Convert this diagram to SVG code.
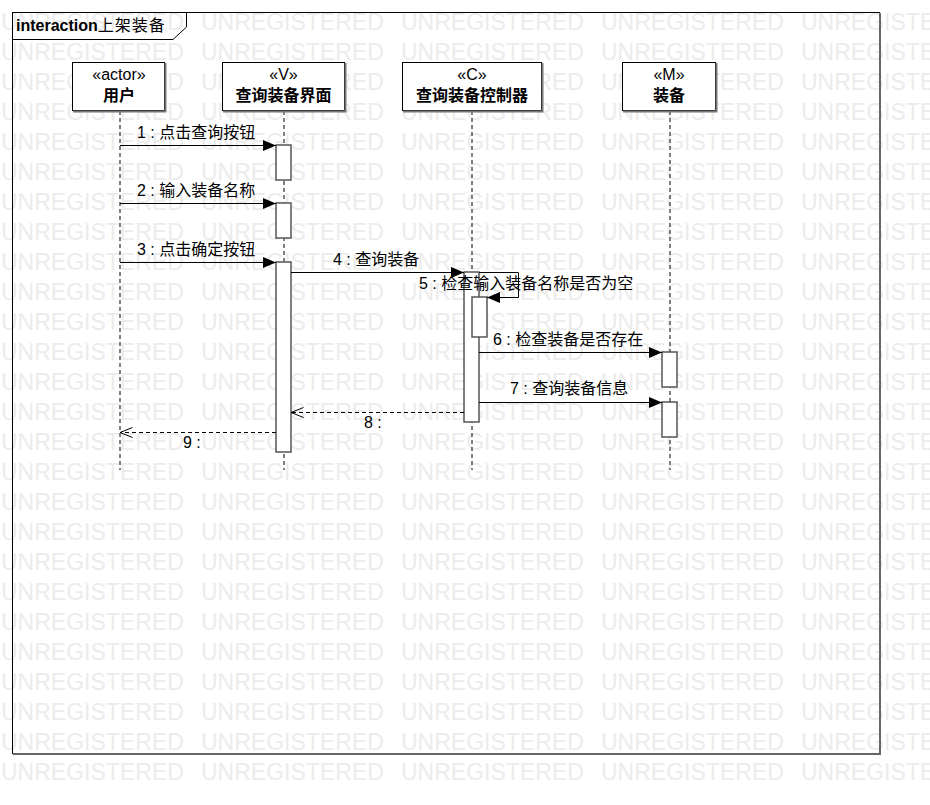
<svg xmlns="http://www.w3.org/2000/svg" xmlns:xlink="http://www.w3.org/1999/xlink" width="930" height="805" viewBox="0 0 930 805">
<style>
text{font-family:"Liberation Sans","Noto Sans CJK SC",sans-serif;fill:#000}
.wm{font-size:23px;fill:#ececec}
.box{fill:#fff;stroke:#000;stroke-width:1}
.sh{fill:none;stroke:#777;stroke-width:2}
.st{font-size:16px;text-anchor:middle}
.nm{font-size:16px;font-weight:bold;text-anchor:middle}
.life{stroke:#000;stroke-width:1;stroke-dasharray:4,3;fill:none}
.act{fill:#fff;stroke:#555;stroke-width:1.5}
.msg{stroke:#000;stroke-width:1;fill:none}
.ret{stroke:#000;stroke-width:1;fill:none;stroke-dasharray:4,3}
.lbl{font-size:16px}
</style>
<defs>
<marker id="fa" markerUnits="userSpaceOnUse" markerWidth="14" markerHeight="12" refX="13" refY="5.5" orient="auto"><path d="M0,0 L13,5.5 L0,11 z" fill="#000"/></marker>
<marker id="oa" markerUnits="userSpaceOnUse" markerWidth="14" markerHeight="12" refX="12.5" refY="5.5" orient="auto"><path d="M0,0.5 L12.5,5.5 L0,10.5" fill="none" stroke="#000" stroke-width="1"/></marker>
<g id="wmrow">
<text class="wm" x="1" y="0">UNREGISTERED</text>
<text class="wm" x="201" y="0">UNREGISTERED</text>
<text class="wm" x="401" y="0">UNREGISTERED</text>
<text class="wm" x="601" y="0">UNREGISTERED</text>
<text class="wm" x="801" y="0">UNREGISTERED</text>
</g>
</defs>
<rect x="0" y="0" width="930" height="805" fill="#fff"/>
<g id="watermark">
<use xlink:href="#wmrow" y="30"/><use xlink:href="#wmrow" y="60"/><use xlink:href="#wmrow" y="90"/><use xlink:href="#wmrow" y="120"/><use xlink:href="#wmrow" y="150"/><use xlink:href="#wmrow" y="180"/><use xlink:href="#wmrow" y="210"/><use xlink:href="#wmrow" y="240"/><use xlink:href="#wmrow" y="270"/><use xlink:href="#wmrow" y="300"/><use xlink:href="#wmrow" y="330"/><use xlink:href="#wmrow" y="360"/><use xlink:href="#wmrow" y="390"/><use xlink:href="#wmrow" y="420"/><use xlink:href="#wmrow" y="450"/><use xlink:href="#wmrow" y="480"/><use xlink:href="#wmrow" y="510"/><use xlink:href="#wmrow" y="540"/><use xlink:href="#wmrow" y="570"/><use xlink:href="#wmrow" y="600"/><use xlink:href="#wmrow" y="630"/><use xlink:href="#wmrow" y="660"/><use xlink:href="#wmrow" y="690"/><use xlink:href="#wmrow" y="720"/><use xlink:href="#wmrow" y="750"/><use xlink:href="#wmrow" y="780"/>
</g>
<g id="frame">
<rect x="12.5" y="12.5" width="867" height="741" fill="none" stroke="#000" stroke-width="1"/>
<path d="M880,13 L880,754 L13,754" fill="none" stroke="#666" stroke-width="2"/>
<path d="M12.5,39.5 L173,39.5 L186.5,27 L186.5,12.5" fill="none" stroke="#000" stroke-width="1"/>
<text x="16" y="31" style="font-size:16px"><tspan font-weight="bold">interaction</tspan><tspan letter-spacing="1">上架装备</tspan></text>
</g>
<g id="lifelines">
<line class="life" x1="120" y1="111" x2="120" y2="470"/>
<line class="life" x1="284" y1="111" x2="284" y2="470"/>
<line class="life" x1="472" y1="111" x2="472" y2="470"/>
<line class="life" x1="670" y1="111" x2="670" y2="470"/>
</g>
<g id="node-user">
<rect class="box" x="72.5" y="62.5" width="92" height="48"/>
<path class="sh" d="M165.5,63 L165.5,111.5 L73,111.5"/>
<text class="st" x="119" y="80">«actor»</text>
<text class="nm" x="119" y="101">用户</text>
</g>
<g id="node-view">
<rect class="box" x="222.5" y="62.5" width="122" height="48"/>
<path class="sh" d="M345.5,63 L345.5,111.5 L223,111.5"/>
<text class="st" x="283.5" y="80">«V»</text>
<text class="nm" x="283.5" y="101">查询装备界面</text>
</g>
<g id="node-controller">
<rect class="box" x="402.5" y="62.5" width="139" height="48"/>
<path class="sh" d="M542.5,63 L542.5,111.5 L403,111.5"/>
<text class="st" x="472" y="80">«C»</text>
<text class="nm" x="472" y="101">查询装备控制器</text>
</g>
<g id="node-model">
<rect class="box" x="622.5" y="62.5" width="93" height="48"/>
<path class="sh" d="M716.5,63 L716.5,111.5 L623,111.5"/>
<text class="st" x="669" y="80">«M»</text>
<text class="nm" x="669" y="101">装备</text>
</g>
<g id="activations">
<rect class="act" x="276" y="145" width="15" height="35"/>
<rect class="act" x="276" y="203" width="15" height="35"/>
<rect class="act" x="276" y="262" width="15" height="190"/>
<rect class="act" x="464" y="272" width="15" height="150"/>
<rect class="act" x="472" y="297" width="15" height="40"/>
<rect class="act" x="662" y="352" width="15" height="35"/>
<rect class="act" x="662" y="402" width="15" height="35"/>
</g>
<g id="connectors">
<line class="msg" x1="120" y1="145.5" x2="276" y2="145.5" marker-end="url(#fa)"/>
<line class="msg" x1="120" y1="203.5" x2="276" y2="203.5" marker-end="url(#fa)"/>
<line class="msg" x1="120" y1="262.5" x2="276" y2="262.5" marker-end="url(#fa)"/>
<line class="msg" x1="291" y1="272.5" x2="464" y2="272.5" marker-end="url(#fa)"/>
<path class="msg" d="M479,272.5 L518.5,272.5 L518.5,297.5 L487,297.5" marker-end="url(#fa)"/>
<line class="msg" x1="479" y1="352.5" x2="662" y2="352.5" marker-end="url(#fa)"/>
<line class="msg" x1="479" y1="402.5" x2="662" y2="402.5" marker-end="url(#fa)"/>
<line class="ret" x1="464" y1="412.5" x2="291" y2="412.5" marker-end="url(#oa)"/>
<line class="ret" x1="276" y1="432.5" x2="120" y2="432.5" marker-end="url(#oa)"/>
<text class="lbl" x="137" y="138">1 : 点击查询按钮</text>
<text class="lbl" x="137" y="196">2 : 输入装备名称</text>
<text class="lbl" x="137" y="255">3 : 点击确定按钮</text>
<text class="lbl" x="333" y="265">4 : 查询装备</text>
<text class="lbl" x="419" y="289">5 : 检查输入装备名称是否为空</text>
<text class="lbl" x="493" y="345">6 : 检查装备是否存在</text>
<text class="lbl" x="510" y="394">7 : 查询装备信息</text>
<text class="lbl" x="364" y="428">8 :</text>
<text class="lbl" x="183" y="448">9 :</text>
</g>
</svg>
